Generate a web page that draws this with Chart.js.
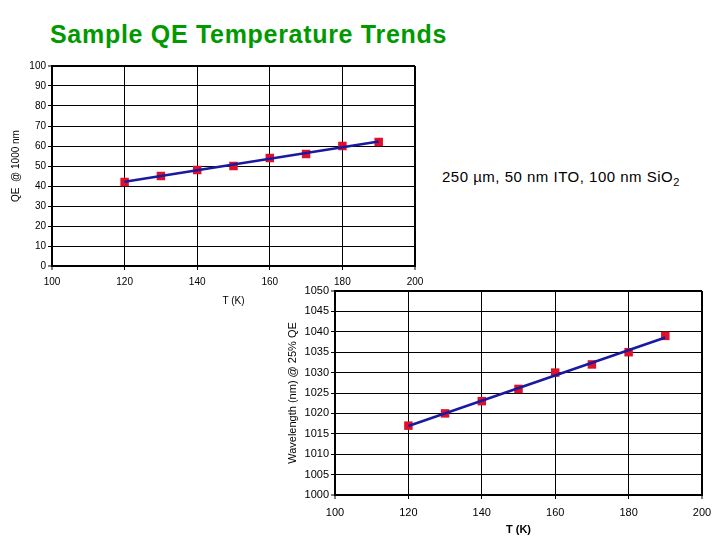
<!DOCTYPE html>
<html>
<head>
<meta charset="utf-8">
<script src="https://cdn.jsdelivr.net/npm/chart.js@4"></script>
<style>
  body { margin: 0; background: #fff; width: 720px; height: 540px; position: relative; overflow: hidden; font-family: 'Liberation Sans', Arial, sans-serif; }
  #title { position: absolute; left: 50px; top: 20px; font-size: 25px; letter-spacing: 0.7px; font-weight: bold; color: #009a00; white-space: nowrap; }
  #note { position: absolute; left: 442px; top: 168px; font-size: 15px; letter-spacing: 0.5px; color: #000; white-space: nowrap; }
  #note sub { font-size: 11px; vertical-align: -4px; line-height: 0; }
  #qeChart { position: absolute; left: 0; top: 55px; }
  #waveChart { position: absolute; left: 280px; top: 280px; }
</style>
</head>
<body>
<div id="title">Sample QE Temperature Trends</div>
<canvas id="qeChart" width="430" height="252"></canvas>
<canvas id="waveChart" width="440" height="260"></canvas>
<div id="note">250 µm, 50 nm ITO, 100 nm SiO<sub>2</sub></div>
<script>
// measured points
const temps = [120, 130, 140, 150, 160, 170, 180, 190];
const qeValues = [42, 45, 48, 50, 54, 56, 60, 62];
const waveValues = [1017, 1020, 1023, 1026, 1030, 1032, 1035, 1039];

// linear trend lines, end points
const trendTemps = [120, 190];
const qeTrend = [42.1, 62.2];
const waveTrend = [1016.9, 1038.6];

const FONT = "'Liberation Sans', Arial, sans-serif";
const markerRed = '#e0102a';
const lineBlue = '#1a1aa0';

function toXY(xs, ys) {
    return xs.map((x, i) => ({ x: x, y: ys[i] }));
}

function edgeWidth(ctx) {
    const n = ctx.scale.ticks.length;
    return (ctx.index === 0 || ctx.index === n - 1) ? 2 : 1;
}

function plain(value) {
    return String(value);
}

function makeChart(id, opts) {
    const ctx = document.getElementById(id).getContext('2d');
    return new Chart(ctx, {
        type: 'scatter',
        data: {
            datasets: [{
                data: toXY(trendTemps, opts.trend),
                showLine: true,
                borderColor: lineBlue,
                borderWidth: 2.5,
                pointRadius: 0,
                fill: false
            }, {
                data: toXY(temps, opts.values),
                showLine: false,
                pointStyle: 'rect',
                pointRadius: 6,
                pointBackgroundColor: markerRed,
                pointBorderColor: markerRed,
                pointBorderWidth: 0
            }]
        },
        options: {
            responsive: false,
            animation: false,
            layout: { padding: opts.padding },
            plugins: { legend: { display: false }, tooltip: { enabled: false } },
            scales: {
                x: {
                    type: 'linear',
                    min: 100, max: 200,
                    ticks: { stepSize: 20, color: '#000', padding: opts.xTickPad, callback: plain,
                             font: { family: FONT, size: opts.tickSize } },
                    grid: { color: '#000', lineWidth: edgeWidth, tickLength: 4, tickWidth: 1, tickColor: '#000' },
                    border: { display: true, color: '#000', width: 2 },
                    title: { display: true, text: 'T (K)', color: '#000', padding: 0,
                             font: { family: FONT, size: opts.xTitleSize, weight: opts.xTitleWeight } },
                    afterFit: function(scale) { scale.height = opts.xHeight; }
                },
                y: {
                    type: 'linear',
                    min: opts.yMin, max: opts.yMax,
                    ticks: { stepSize: opts.yStep, color: '#000', padding: 2, callback: plain,
                             font: { family: FONT, size: opts.tickSize } },
                    grid: { color: '#000', lineWidth: edgeWidth, tickLength: 4, tickWidth: 1, tickColor: '#000' },
                    border: { display: true, color: '#000', width: 2 },
                    title: { display: true, text: opts.yTitle, color: '#000', padding: 4,
                             font: { family: FONT, size: opts.yTitleSize } },
                    afterFit: function(scale) { scale.width = opts.yWidth; }
                }
            }
        }
    });
}

makeChart('qeChart', {
    values: qeValues, trend: qeTrend,
    yMin: 0, yMax: 100, yStep: 10,
    yTitle: 'QE  @ 1000 nm',
    tickSize: 10, xTitleSize: 10, xTitleWeight: 'normal', yTitleSize: 10,
    xTickPad: 6,
    padding: { left: 6, top: 11, right: 15, bottom: 0 },
    yWidth: 46, xHeight: 41
});

makeChart('waveChart', {
    values: waveValues, trend: waveTrend,
    yMin: 1000, yMax: 1050, yStep: 5,
    yTitle: 'Wavelength (nm) @ 25% QE',
    tickSize: 11, xTitleSize: 11, xTitleWeight: 'bold', yTitleSize: 11,
    xTickPad: 7,
    padding: { left: 2, top: 11, right: 18, bottom: 3 },
    yWidth: 53, xHeight: 42
});
</script>
</body>
</html>
